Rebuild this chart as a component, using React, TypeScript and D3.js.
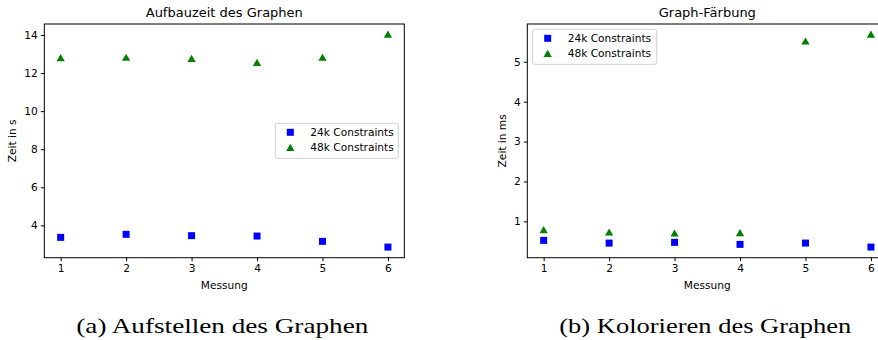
import React, { useRef, useEffect } from "react";
import * as d3 from "d3";

const MESSUNG = [1, 2, 3, 4, 5, 6];

// Aufbauzeit (s)
const BUILD_24K = [3.37, 3.53, 3.46, 3.44, 3.16, 2.86];
const BUILD_48K = [12.79, 12.81, 12.75, 12.54, 12.81, 14.02];
const BUILD_TICKS = [4, 6, 8, 10, 12, 14];

// Graph-Färbung (ms)
const COLOR_24K = [0.524, 0.456, 0.474, 0.424, 0.456, 0.356];
const COLOR_48K = [0.782, 0.724, 0.699, 0.707, 5.51, 5.68];
const COLOR_TICKS = [1, 2, 3, 4, 5];

const SERIES_LABELS = ["24k Constraints", "48k Constraints"];
const BLUE = "#0000ff";
const GREEN = "#008000";
const FONT = "DejaVu Sans, sans-serif";
const FS = 10.6;

const PANELS = [
  {
    left: 44.3,
    title: "Aufbauzeit des Graphen",
    yLabel: "Zeit in s",
    yLabelDx: -31.6,
    s24: BUILD_24K,
    s48: BUILD_48K,
    yTicks: BUILD_TICKS,
    legend: { x: 275.3, y: 123.3, w: 123, h: 35 },
    caption: "(a) Aufstellen des Graphen",
  },
  {
    left: 527.3,
    title: "Graph-Färbung",
    yLabel: "Zeit in ms",
    yLabelDx: -25,
    s24: COLOR_24K,
    s48: COLOR_48K,
    yTicks: COLOR_TICKS,
    legend: { x: 532.7, y: 29.3, w: 124, h: 35 },
    caption: "(b) Kolorieren des Graphen",
  },
];

const TOP = 24;
const BOTTOM = 257.7;
const PLOT_W = 360;

export default function App() {
  const svgRef = useRef<SVGSVGElement>(null);

  useEffect(() => {
    const svg = d3.select(svgRef.current);
    svg.selectAll("*").remove();

    svg.append("rect").attr("width", 878).attr("height", 340).attr("fill", "#fff");

    PANELS.forEach((p) => {
      const g = svg.append("g").attr("transform", `translate(${p.left},${TOP})`);
      const h = BOTTOM - TOP;

      // matplotlib-style 5% margins
      const x = d3.scaleLinear().domain([0.75, 6.25]).range([0, PLOT_W]);
      const all = [...p.s24, ...p.s48];
      const [lo, hi] = d3.extent(all) as [number, number];
      const pad = (hi - lo) * 0.05;
      const y = d3.scaleLinear().domain([lo - pad, hi + pad]).range([h, 0]);

      // frame
      g.append("rect")
        .attr("width", PLOT_W)
        .attr("height", h)
        .attr("fill", "none")
        .attr("stroke", "#000")
        .attr("stroke-width", 1);

      const xAxis = g
        .append("g")
        .attr("transform", `translate(0,${h})`)
        .call(d3.axisBottom(x).tickValues(MESSUNG).tickSize(3.5).tickPadding(3).tickFormat(d3.format("d")));
      xAxis.select(".domain").remove();
      xAxis.selectAll("text").attr("font-size", FS).attr("font-family", FONT).attr("fill", "#000");

      const yAxis = g
        .append("g")
        .call(d3.axisLeft(y).tickValues(p.yTicks).tickSize(3.5).tickPadding(3).tickFormat(d3.format("d")));
      yAxis.select(".domain").remove();
      yAxis.selectAll("text").attr("font-size", FS).attr("font-family", FONT).attr("fill", "#000");

      // squares
      g.selectAll(".sq")
        .data(p.s24)
        .join("rect")
        .attr("x", (_, i) => x(MESSUNG[i]) - 3.5)
        .attr("y", (d) => y(d) - 3.5)
        .attr("width", 7)
        .attr("height", 7)
        .attr("fill", BLUE);

      const tri = d3.symbol().type(d3.symbolTriangle).size(30);
      g.selectAll(".tri")
        .data(p.s48)
        .join("path")
        .attr("transform", (d, i) => `translate(${x(MESSUNG[i])},${y(d) + 0.8})`)
        .attr("d", tri)
        .attr("fill", GREEN);

      // title & labels
      g.append("text")
        .attr("x", PLOT_W / 2)
        .attr("y", -7)
        .attr("text-anchor", "middle")
        .attr("font-size", 13)
        .attr("font-family", FONT)
        .text(p.title);

      g.append("text")
        .attr("x", PLOT_W / 2)
        .attr("y", h + 31)
        .attr("text-anchor", "middle")
        .attr("font-size", FS)
        .attr("font-family", FONT)
        .text("Messung");

      g.append("text")
        .attr("transform", `translate(${p.yLabelDx + 3.5},${h / 2}) rotate(-90)`)
        .attr("text-anchor", "middle")
        .attr("font-size", FS)
        .attr("font-family", FONT)
        .text(p.yLabel);

      // legend
      const L = p.legend;
      const lg = svg.append("g").attr("transform", `translate(${L.x},${L.y})`);
      lg.append("rect")
        .attr("width", L.w)
        .attr("height", L.h)
        .attr("rx", 2)
        .attr("fill", "#fff")
        .attr("fill-opacity", 0.8)
        .attr("stroke", "#d0d0d0")
        .attr("stroke-width", 1);
      SERIES_LABELS.forEach((lab, i) => {
        const cy = 9 + i * 15.4;
        if (i === 0) {
          lg.append("rect").attr("x", 15 - 3.5).attr("y", cy - 3.5).attr("width", 7).attr("height", 7).attr("fill", BLUE);
        } else {
          lg.append("path").attr("transform", `translate(15,${cy + 0.8})`).attr("d", tri).attr("fill", GREEN);
        }
        lg.append("text")
          .attr("x", 35)
          .attr("y", cy)
          .attr("dy", "0.35em")
          .attr("font-size", FS)
          .attr("font-family", FONT)
          .text(lab);
      });

      // caption
      svg.append("text")
        .attr("x", p.left + PLOT_W / 2 - 2)
        .attr("y", 333)
        .attr("text-anchor", "middle")
        .attr("font-size", 22)
        .attr("font-family", "Liberation Serif, serif")
        .attr("textLength", 292)
        .attr("lengthAdjust", "spacingAndGlyphs")
        .text(p.caption);
    });
  }, []);

  return (
    <svg
      ref={svgRef}
      width={878}
      height={340}
      style={{ position: "absolute", left: 0, top: 0, display: "block" }}
    />
  );
}
